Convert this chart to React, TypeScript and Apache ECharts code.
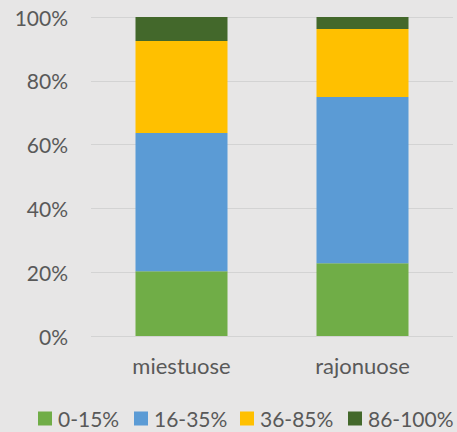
import React, { useEffect, useRef } from "react";
import * as echarts from "echarts";

const categories = ["miestuose", "rajonuose"];
const seriesNames = ["0-15%", "16-35%", "36-85%", "86-100%"];
const s0_15 = [20.3, 22.8];
const s16_35 = [43.3, 52.1];
const s36_85 = [28.9, 21.3];
const s86_100 = [7.5, 3.8];
const colors = ["#70AD47", "#5B9BD5", "#FFC000", "#43682B"];
const legendLefts = [38, 134, 240, 348];

export default function App() {
  const ref = useRef<HTMLDivElement>(null);
  useEffect(() => {
    document.body.style.margin = "0";
    const chart = echarts.init(ref.current!, null, { renderer: "svg" });
    const font = "Lato, 'Open Sans', sans-serif";
    const values = [s0_15, s16_35, s36_85, s86_100];
    chart.setOption({
      animation: false,
      backgroundColor: "#E7E6E6",
      textStyle: { fontFamily: font },
      grid: { left: 91, right: 4, top: 17, bottom: 96 },
      legend: seriesNames.map((name, i) => ({
        left: legendLefts[i],
        top: 408,
        padding: 0,
        icon: "rect",
        itemWidth: 14,
        itemHeight: 14,
        data: [name],
        textStyle: { fontSize: 21, color: "#595959", fontFamily: font, padding: [0, 0, 0, 1] },
      })),
      xAxis: {
        type: "category",
        data: categories,
        axisLine: { show: false },
        axisTick: { show: false },
        axisLabel: { fontSize: 22, color: "#595959", margin: 18, fontFamily: font },
      },
      yAxis: {
        type: "value",
        min: 0,
        max: 100,
        interval: 20,
        axisLine: { show: false },
        axisTick: { show: false },
        axisLabel: { formatter: "{value}%", fontSize: 21, color: "#595959", margin: 23, fontFamily: font },
        splitLine: { lineStyle: { color: "#D3D3D3", width: 1 } },
      },
      series: seriesNames.map((name, i) => ({
        name,
        type: "bar",
        stack: "total",
        barWidth: 92,
        data: values[i],
        itemStyle: { color: colors[i] },
      })),
    });
    return () => chart.dispose();
  }, []);
  return <div ref={ref} style={{ position: "fixed", left: 0, top: 0, width: 457, height: 432 }} />;
}
